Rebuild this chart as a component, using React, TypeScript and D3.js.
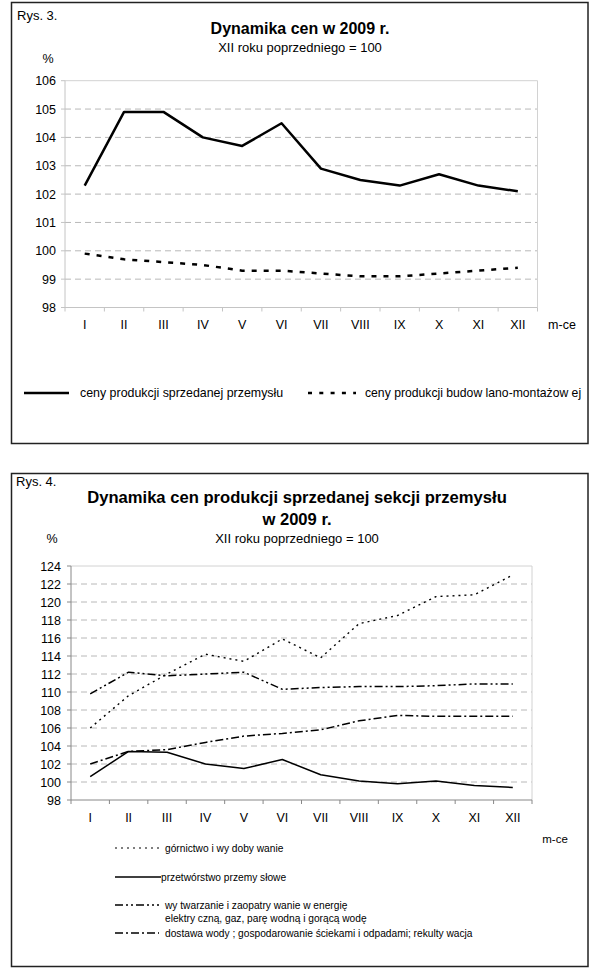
import { scaleLinear, scalePoint, line, range } from 'd3';

const months = ['I', 'II', 'III', 'IV', 'V', 'VI', 'VII', 'VIII', 'IX', 'X', 'XI', 'XII'];

// Rys. 3
const industryPrices = [102.3, 104.9, 104.9, 104.0, 103.7, 104.5, 102.9, 102.5, 102.3, 102.7, 102.3, 102.1];
const constructionPrices = [99.9, 99.7, 99.6, 99.5, 99.3, 99.3, 99.2, 99.1, 99.1, 99.2, 99.3, 99.4];
const ticks3 = [98, 99, 100, 101, 102, 103, 104, 105, 106];

// Rys. 4
const mining = [106.0, 109.6, 112.0, 114.2, 113.4, 115.9, 113.8, 117.6, 118.5, 120.6, 120.8, 123.0];
const manufacturing = [100.6, 103.4, 103.3, 102.0, 101.5, 102.5, 100.8, 100.1, 99.8, 100.1, 99.6, 99.4];
const energy = [109.8, 112.2, 111.8, 112.0, 112.2, 110.3, 110.5, 110.6, 110.6, 110.7, 110.9, 110.9];
const water = [102.0, 103.4, 103.6, 104.4, 105.1, 105.4, 105.8, 106.8, 107.4, 107.3, 107.3, 107.3];
const ticks4 = range(98, 125, 2);

const FONT = '"Liberation Sans", Arial, sans-serif';

type Series = { values: number[]; width: number; dash?: string };

type PlotProps = {
  left: number;
  right: number;
  top: number;
  bottom: number;
  ticks: number[];
  series: Series[];
  axisColor: string;
  labelRight: number;
  xLabelY: number;
};

const Plot = (props: PlotProps) => {
  const { left, right, top, bottom, ticks, series, axisColor, labelRight, xLabelY } = props;
  const y = scaleLinear().domain([ticks[0], ticks[ticks.length - 1]]).range([bottom, top]);
  const x = scalePoint<string>().domain(months).range([left, right]).padding(0.5);
  const step = x.step();
  const path = line<number>()
    .x((_, i) => x(months[i]) as number)
    .y((d) => y(d));

  return (
    <g>
      {ticks.slice(1, -1).map((t) => (
        <line key={t} x1={left} x2={right} y1={y(t)} y2={y(t)} stroke="#b8b8b8" strokeDasharray="6,4" />
      ))}
      <line x1={left} x2={right} y1={top} y2={top} stroke="#d2d2d2" />
      <line x1={right} x2={right} y1={top} y2={bottom} stroke="#d2d2d2" />
      <line x1={left} x2={left} y1={top} y2={bottom} stroke={axisColor} />
      <line x1={left} x2={right} y1={bottom} y2={bottom} stroke={axisColor} />
      {ticks.map((t) => (
        <g key={t}>
          <line x1={left - 4} x2={left} y1={y(t)} y2={y(t)} stroke={axisColor} />
          <text x={labelRight} y={y(t) + 4.5} textAnchor="end" fontSize={12.5}>
            {t}
          </text>
        </g>
      ))}
      {range(months.length + 1).map((i) => (
        <line key={i} x1={left + i * step} x2={left + i * step} y1={bottom} y2={bottom + 4} stroke={axisColor} />
      ))}
      {months.map((m) => (
        <text key={m} x={x(m)} y={xLabelY} textAnchor="middle" fontSize={12.5}>
          {m}
        </text>
      ))}
      {series.map((s, i) => (
        <path
          key={i}
          d={path(s.values) || ''}
          fill="none"
          stroke="#000"
          strokeWidth={s.width}
          strokeDasharray={s.dash}
          strokeLinejoin="round"
        />
      ))}
    </g>
  );
};

export default function App() {
  return (
    <svg
      width={600}
      height={969}
      style={{ position: 'absolute', left: 0, top: 0, fontFamily: FONT }}
      fill="#000"
    >
      <rect x={0} y={0} width={600} height={969} fill="#fff" />

      {/* Rys. 3 */}
      <rect x={11.5} y={2.5} width={576.5} height={441} fill="none" stroke="#222" strokeWidth={1.5} />
      <text x={17} y={20} fontSize={13}>Rys. 3.</text>
      <text x={300} y={34} textAnchor="middle" fontSize={16} fontWeight="bold">
        Dynamika cen w 2009 r.
      </text>
      <text x={300} y={52} textAnchor="middle" fontSize={13}>
        XII roku poprzedniego = 100
      </text>
      <text x={48} y={63} textAnchor="middle" fontSize={12.5}>%</text>
      <Plot
        left={65}
        right={537.5}
        top={80.7}
        bottom={307.5}
        ticks={ticks3}
        axisColor="#c4c4c4"
        labelRight={56}
        xLabelY={329}
        series={[
          { values: industryPrices, width: 2.5 },
          { values: constructionPrices, width: 2.5, dash: '5,7' },
        ]}
      />
      <text x={562} y={329} textAnchor="middle" fontSize={12.5}>m-ce</text>
      <line x1={24} x2={69} y1={393} y2={393} stroke="#000" strokeWidth={2.5} />
      <text x={80} y={397} fontSize={12.4}>ceny produkcji sprzedanej przemysłu</text>
      <line x1={308} x2={356} y1={393} y2={393} stroke="#000" strokeWidth={2.5} strokeDasharray="4,7.3" />
      <text x={365} y={397} fontSize={12.2}>ceny produkcji budow lano-montażow ej</text>

      {/* Rys. 4 */}
      <rect x={11.5} y={473.5} width={576.5} height={493} fill="none" stroke="#222" strokeWidth={1.5} />
      <text x={16} y={486} fontSize={13}>Rys. 4.</text>
      <text x={297} y={503} textAnchor="middle" fontSize={16.6} fontWeight="bold">
        Dynamika cen produkcji sprzedanej sekcji przemysłu
      </text>
      <text x={297} y={525} textAnchor="middle" fontSize={16.6} fontWeight="bold">
        w 2009 r.
      </text>
      <text x={297} y={543} textAnchor="middle" fontSize={13}>
        XII roku poprzedniego = 100
      </text>
      <text x={52} y={543} textAnchor="middle" fontSize={12.5}>%</text>
      <Plot
        left={71}
        right={532}
        top={566}
        bottom={800}
        ticks={ticks4}
        axisColor="#888"
        labelRight={61}
        xLabelY={822}
        series={[
          { values: mining, width: 1.4, dash: '2,4' },
          { values: manufacturing, width: 1.5 },
          { values: energy, width: 1.5, dash: '8,3,2,3,2,3' },
          { values: water, width: 1.5, dash: '8,3,2,3' },
        ]}
      />
      <text x={555} y={843} textAnchor="middle" fontSize={11.5}>m-ce</text>

      <line x1={115} x2={159} y1={848} y2={848} stroke="#000" strokeWidth={1.2} strokeDasharray="2,4" />
      <text x={165} y={852} fontSize={10.2}>górnictwo i wy doby wanie</text>
      <line x1={115} x2={161} y1={877} y2={877} stroke="#000" strokeWidth={1.5} />
      <text x={161} y={881} fontSize={10.2}>przetwórstwo przemy słowe</text>
      <line x1={115} x2={159} y1={905} y2={905} stroke="#000" strokeWidth={1.5} strokeDasharray="8,3,2,3,2,3" />
      <text x={165} y={909} fontSize={10.2}>wy twarzanie i zaopatry wanie w energię</text>
      <text x={165} y={922} fontSize={10.2}>elektry czną, gaz, parę wodną i gorącą wodę</text>
      <line x1={115} x2={159} y1={933} y2={933} stroke="#000" strokeWidth={1.5} strokeDasharray="8,3,2,3" />
      <text x={165} y={937} fontSize={10.2}>dostawa wody ; gospodarowanie ściekami i odpadami; rekulty wacja</text>
    </svg>
  );
}
